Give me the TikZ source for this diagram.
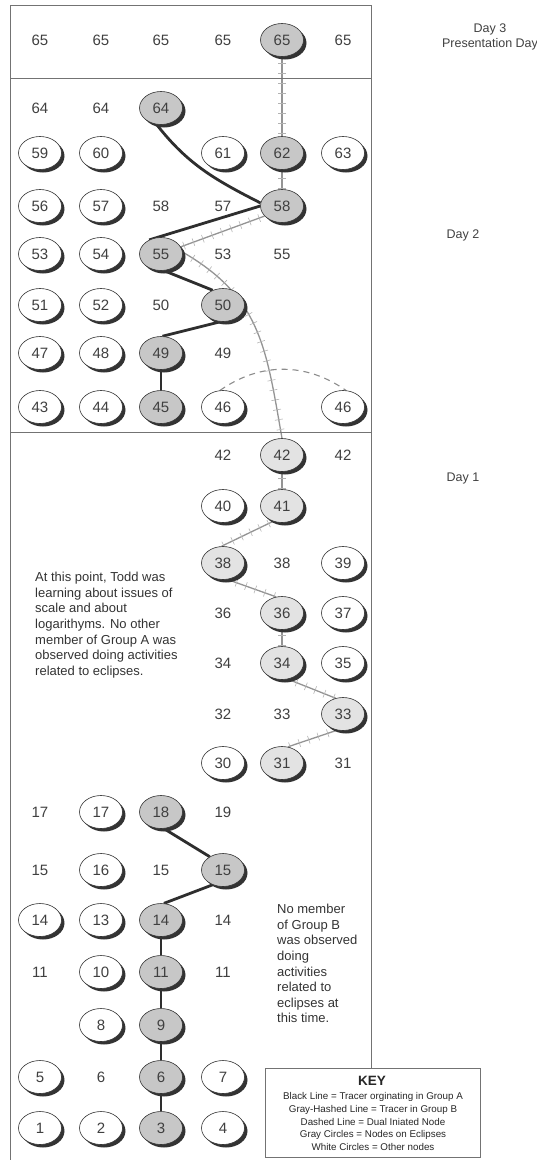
\documentclass[tikz,border=0pt]{standalone}
\usepackage{fontspec}
\setmainfont{Liberation Sans}
\usetikzlibrary{shapes.geometric,shadows,decorations.markings,backgrounds}

\begin{document}
\begin{tikzpicture}[x=1pt,y=-1pt,
  frame/.style={draw=black!55, line width=0.7pt},
  num/.style={font=\fontsize{15}{15}\selectfont, text=black!75, inner sep=0pt},
  wnode/.style={num, ellipse, draw=black!80, line width=0.6pt, fill=white,
    minimum width=43pt, minimum height=33pt,
    drop shadow={shadow xshift=3pt, shadow yshift=-3pt, fill=black!80, opacity=1}},
  gnode/.style={wnode, fill=black!22},
  lnode/.style={wnode, fill=black!11},
  tracerA/.style={draw=black!82, line width=2.8pt},
  tracerB/.style={draw=black!42, line width=1.3pt, postaction={decorate},
    decoration={markings, mark=between positions 0.04 and 0.97 step 10pt with
      {\draw[black!30, line width=0.6pt] (0,-4pt) -- (0,4pt);}}},
  dualline/.style={draw=black!45, line width=1.1pt, dash pattern=on 6pt off 5pt},
  note/.style={font=\fontsize{13}{15.6}\selectfont, text=black!80, align=left, inner sep=0pt, anchor=north west},
  daylabel/.style={font=\fontsize{12.5}{15}\selectfont, text=black!75, align=center, inner sep=0pt},
  keytext/.style={font=\fontsize{9.8}{12.7}\selectfont, text=black!85, align=center, inner sep=0pt}
]
\useasboundingbox (0,0) rectangle (537,1160);

% ---- frame of the three days ----
\draw[frame] (10,1160) -- (10,5) -- (371,5) -- (371,1068);
\draw[frame] (10,78) -- (371,78);
\draw[frame] (10,432) -- (371,432);
\draw[frame] (265,1157) rectangle (480,1068);

% ---- day labels ----
\node[daylabel] (day3) at (490,37) {Day 3\\Presentation Day};
\node[daylabel] (day2) at (463,235) {Day 2};
\node[daylabel] (day1) at (463,478) {Day 1};

% ---- Day 3 ----
\node[num]   (t65a) at (40,40)  {65};
\node[num]   (t65b) at (101,40) {65};
\node[num]   (t65c) at (161,40) {65};
\node[num]   (t65d) at (223,40) {65};
\node[gnode] (g65)  at (282,40) {65};
\node[num]   (t65e) at (343,40) {65};

% ---- Day 2 ----
\node[num]   (t64a) at (40,108)  {64};
\node[num]   (t64b) at (101,108) {64};
\node[gnode] (g64)  at (161,108) {64};

\node[wnode] (w59) at (40,153)  {59};
\node[wnode] (w60) at (101,153) {60};
\node[wnode] (w61) at (223,153) {61};
\node[gnode] (g62) at (282,153) {62};
\node[wnode] (w63) at (343,153) {63};

\node[wnode] (w56)  at (40,206)  {56};
\node[wnode] (w57)  at (101,206) {57};
\node[num]   (t58)  at (161,206) {58};
\node[num]   (t57)  at (223,206) {57};
\node[gnode] (g58)  at (282,206) {58};

\node[wnode] (w53)  at (40,254)  {53};
\node[wnode] (w54)  at (101,254) {54};
\node[gnode] (g55)  at (161,254) {55};
\node[num]   (t53)  at (223,254) {53};
\node[num]   (t55)  at (282,254) {55};

\node[wnode] (w51)  at (40,305)  {51};
\node[wnode] (w52)  at (101,305) {52};
\node[num]   (t50)  at (161,305) {50};
\node[gnode] (g50)  at (223,305) {50};

\node[wnode] (w47)  at (40,353)  {47};
\node[wnode] (w48)  at (101,353) {48};
\node[gnode] (g49)  at (161,353) {49};
\node[num]   (t49)  at (223,353) {49};

\node[wnode] (w43)  at (40,407)  {43};
\node[wnode] (w44)  at (101,407) {44};
\node[gnode] (g45)  at (161,407) {45};
\node[wnode] (w46a) at (223,407) {46};
\node[wnode] (w46b) at (343,407) {46};

% ---- Day 1 ----
\node[num]   (t42a) at (223,455) {42};
\node[lnode] (g42)  at (282,455) {42};
\node[num]   (t42b) at (343,455) {42};

\node[wnode] (w40)  at (223,506) {40};
\node[lnode] (g41)  at (282,506) {41};

\node[lnode] (g38)  at (223,563) {38};
\node[num]   (t38)  at (282,563) {38};
\node[wnode] (w39)  at (343,563) {39};

\node[num]   (t36)  at (223,613) {36};
\node[lnode] (g36)  at (282,613) {36};
\node[wnode] (w37)  at (343,613) {37};

\node[num]   (t34)  at (223,663) {34};
\node[lnode] (g34)  at (282,663) {34};
\node[wnode] (w35)  at (343,663) {35};

\node[num]   (t32)  at (223,714) {32};
\node[num]   (t33)  at (282,714) {33};
\node[lnode] (g33)  at (343,714) {33};

\node[wnode] (w30)  at (223,763) {30};
\node[lnode] (g31)  at (282,763) {31};
\node[num]   (t31)  at (343,763) {31};

\node[num]   (t17)  at (40,812)  {17};
\node[wnode] (w17)  at (101,812) {17};
\node[gnode] (g18)  at (161,812) {18};
\node[num]   (t19)  at (223,812) {19};

\node[num]   (t15a) at (40,870)  {15};
\node[wnode] (w16)  at (101,870) {16};
\node[num]   (t15b) at (161,870) {15};
\node[gnode] (g15)  at (223,870) {15};

\node[wnode] (w14)  at (40,920)  {14};
\node[wnode] (w13)  at (101,920) {13};
\node[gnode] (g14)  at (161,920) {14};
\node[num]   (t14)  at (223,920) {14};

\node[num]   (t11a) at (40,972)  {11};
\node[wnode] (w10)  at (101,972) {10};
\node[gnode] (g11)  at (161,972) {11};
\node[num]   (t11b) at (223,972) {11};

\node[wnode] (w8)   at (101,1025) {8};
\node[gnode] (g9)   at (161,1025) {9};

\node[wnode] (w5)   at (40,1077)  {5};
\node[num]   (t6)   at (101,1077) {6};
\node[gnode] (g6)   at (161,1077) {6};
\node[wnode] (w7)   at (223,1077) {7};

\node[wnode] (w1)   at (40,1128)  {1};
\node[wnode] (w2)   at (101,1128) {2};
\node[gnode] (g3)   at (161,1128) {3};
\node[wnode] (w4)   at (223,1128) {4};

% ---- notes ----
\node[note] (noteA) at (35,572) {At this point, Todd was\\learning about issues of\\scale and about\\logarithyms. No other\\member of Group A was\\observed doing activities\\related to eclipses.};
\node[note] (noteB) at (277,904) {No member\\of Group B\\was observed\\doing\\activities\\related to\\eclipses at\\this time.};

% ---- key ----
\node[font=\bfseries\fontsize{13.5}{14}\selectfont, text=black!85, inner sep=0pt] (keyhead) at (372,1081) {KEY};
\node[keytext, anchor=north] (keybody) at (373,1092.5) {Black Line = Tracer orginating in Group A\\Gray-Hashed Line = Tracer in Group B\\Dashed Line = Dual Iniated Node\\Gray Circles = Nodes on Eclipses\\White Circles = Other nodes};

% ---- tracers, behind the circles ----
\begin{pgfonlayer}{background}
  % Group A tracer, first days
  \draw[tracerA] (g3.north) -- (g6.south);
  \draw[tracerA] (g6.north) -- (g9.south);
  \draw[tracerA] (g9.north) -- (g11.south);
  \draw[tracerA] (g11.north) -- (g14.south);
  \draw[tracerA] (g14.80) -- (g15.-125);
  \draw[tracerA] (g15.135) -- (g18.-80);
  % Group A tracer, day 2
  \draw[tracerA] (g45.north) -- (g49.south);
  \draw[tracerA] (g49.85) -- (g50.-40);
  \draw[tracerA] (g50.125) -- (g55.-80);
  \draw[tracerA] (g55.130) -- (g58.180);
  \draw[tracerA] (g64.-105) to[out=-52, in=153] (g58.172);
  % Group B tracer
  \draw[tracerB] (g31.70) -- (g33.-110);
  \draw[tracerB] (g33.115) -- (g34.-70);
  \draw[tracerB] (g34.north) -- (g36.south);
  \draw[tracerB] (g36.110) -- (g38.-75);
  \draw[tracerB] (g38.95) -- (g41.-120);
  \draw[tracerB] (g41.north) -- (g42.south);
  \draw[tracerB] (g42.north) to[out=100, in=-30, looseness=1.1] (g55.5);
  \draw[tracerB] (g55.20) -- (g58.-150);
  \draw[tracerB] (g58.north) -- (g62.south);
  \draw[tracerB] (g62.north) -- (g65.south);
  % dual initiated node
  \draw[dualline] (w46a.100) to[out=35, in=145] (w46b.80);
\end{pgfonlayer}
\end{tikzpicture}
\end{document}
